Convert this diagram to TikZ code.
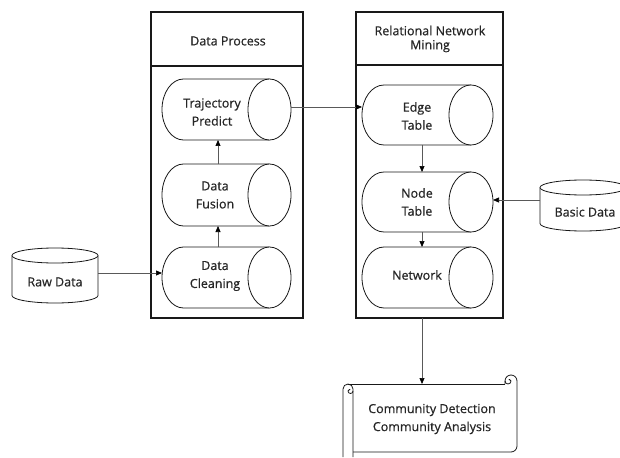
\documentclass[tikz,border=0pt]{standalone}
\usepackage{fontspec}
\setmainfont{Open Sans}
\newfontfamily\labelfont{Open Sans}[FakeBold=0.6]
\usetikzlibrary{arrows.meta}

% horizontal cylinder: #1 left x, #2 right x, #3 top y, #4 bottom y, #5 x radius of the end faces
\newcommand\hcylinder[5]{%
  \draw[cylline] ({#1+#5},#3)
      arc[start angle=270,end angle=90,x radius=#5,y radius={(#4-#3)/2}]
      -- ({#2-#5},#4)
      arc[start angle=90,end angle=-90,x radius=#5,y radius={(#4-#3)/2}]
      -- cycle;
  \draw[cylline] ({#2-#5},#4)
      arc[start angle=90,end angle=270,x radius=#5,y radius={(#4-#3)/2}];
}
% upright cylinder: #1 left x, #2 right x, #3 top y, #4 bottom y, #5 y radius of the end faces
\newcommand\vcylinder[5]{%
  \draw[cylline] (#1,{#3+#5}) -- (#1,{#4-#5})
      arc[start angle=180,end angle=0,x radius={(#2-#1)/2},y radius=#5]
      -- (#2,{#3+#5})
      arc[start angle=0,end angle=-180,x radius={(#2-#1)/2},y radius=#5]
      -- cycle;
  \draw[cylline] (#1,{#3+#5})
      arc[start angle=180,end angle=0,x radius={(#2-#1)/2},y radius=#5];
}

\begin{document}
\begin{tikzpicture}[x=1pt,y=-1pt,
  frame/.style={draw=black!90,line width=1.2pt},
  cylline/.style={draw=black!90,line width=0.8pt,fill=white},
  holder/.style={inner sep=0pt,outer sep=0pt},
  lbl/.style={text=black!85,font=\labelfont\fontsize{12.5}{18}\selectfont,align=center,inner sep=0pt},
  head/.style={text=black!85,font=\labelfont\fontsize{12.5}{14}\selectfont,align=center,inner sep=0pt},
  conn/.style={draw=black!65,line width=0.7pt,-{Triangle[length=6pt,width=5pt,color=black]}}]
\useasboundingbox (0,0) rectangle (620,457);

% ---- Data Process column ----
\draw[frame] (151,12) rectangle (303,66);
\draw[frame] (151,66) rectangle (303,318);
\node[head] (dphead) at (228,41) {Data Process};

\hcylinder{162}{291}{79}{140}{21.5}
\node[holder,minimum width=129pt,minimum height=61pt] (tp) at (226.5,109.5) {};
\node[lbl] (tptext) at (212,112) {Trajectory\\Predict};

\hcylinder{162}{291}{164}{226}{21.5}
\node[holder,minimum width=129pt,minimum height=62pt] (df) at (226.5,195) {};
\node[lbl] (dftext) at (215,195) {Data\\Fusion};

\hcylinder{162}{291}{247}{308}{21.5}
\node[holder,minimum width=129pt,minimum height=61pt] (dc) at (226.5,277.5) {};
\node[lbl] (dctext) at (215,276) {Data\\Cleaning};

% ---- Relational Network Mining column ----
\draw[frame] (356,12) rectangle (503,65);
\draw[frame] (356,65) rectangle (503,318);
\node[head] (rnhead) at (430,39) {Relational Network\\Mining};
\node[holder,minimum width=147pt,minimum height=253pt] (rnbox) at (429.5,191.5) {};

\hcylinder{362}{493}{85}{145}{22}
\node[holder,minimum width=131pt,minimum height=60pt] (et) at (427.5,115) {};
\node[lbl] (ettext) at (417,116) {Edge\\Table};

\hcylinder{362}{493}{172}{232}{22}
\node[holder,minimum width=131pt,minimum height=60pt] (nt) at (427.5,202) {};
\node[lbl] (nttext) at (417,202) {Node\\Table};

\hcylinder{362}{493}{247}{308}{22}
\node[holder,minimum width=131pt,minimum height=61pt] (nw) at (427.5,277.5) {};
\node[lbl] (nwtext) at (417,275) {Network};

% ---- data sources ----
\vcylinder{12}{98}{248}{303}{7.5}
\node[holder,minimum width=86pt,minimum height=55pt] (raw) at (55,275.5) {};
\node[lbl] (rawtext) at (55,282) {Raw Data};

\vcylinder{540}{626}{180}{231}{7.5}
\node[holder,minimum width=86pt,minimum height=51pt] (basic) at (583,205.5) {};
\node[lbl] (basictext) at (585,212) {Basic Data};

% ---- result scroll ----
\node[holder,minimum width=175pt,minimum height=68pt] (cd) at (430,418) {};
\fill[white] (343,384) rectangle (517,457);
\draw[cylline,fill=none] (343,457) -- (343,389)
    arc[start angle=180,end angle=360,radius=5] -- (353,457);
\draw[cylline,fill=none] (353,391)
    arc[start angle=0,end angle=180,radius=2.5]
    arc[start angle=180,end angle=300,radius=1.5];
\draw[cylline,fill=none] (348,384) -- (505,384);
\draw[cylline,fill=none] (353,452) -- (511,452)
    arc[start angle=90,end angle=0,radius=6] -- (517,381)
    arc[start angle=0,end angle=-180,radius=6] -- (505,384);
\draw[cylline,fill=none] (505,381)
    arc[start angle=180,end angle=0,radius=3]
    arc[start angle=0,end angle=-120,radius=1.5];
\node[lbl] (cdtext) at (432,419) {Community Detection\\Community Analysis};

% ---- connectors ----
\draw[conn] (raw.east |- 0,273) -- (dc.west |- 0,273);
\draw[conn] (dc.north -| 218,0) -- (df.south -| 218,0);
\draw[conn] (df.north -| 218,0) -- (tp.south -| 218,0);
\draw[conn] (tp.east |- 0,107) -- (et.west |- 0,107);
\draw[conn] (et.south -| 422,0) -- (nt.north -| 422,0);
\draw[conn] (nt.south -| 422,0) -- (nw.north -| 422,0);
\draw[conn] (basic.west |- 0,200) -- (nt.east |- 0,200);
\draw[conn] (rnbox.south -| 422,0) -- (cd.north -| 422,0);
\end{tikzpicture}
\end{document}
